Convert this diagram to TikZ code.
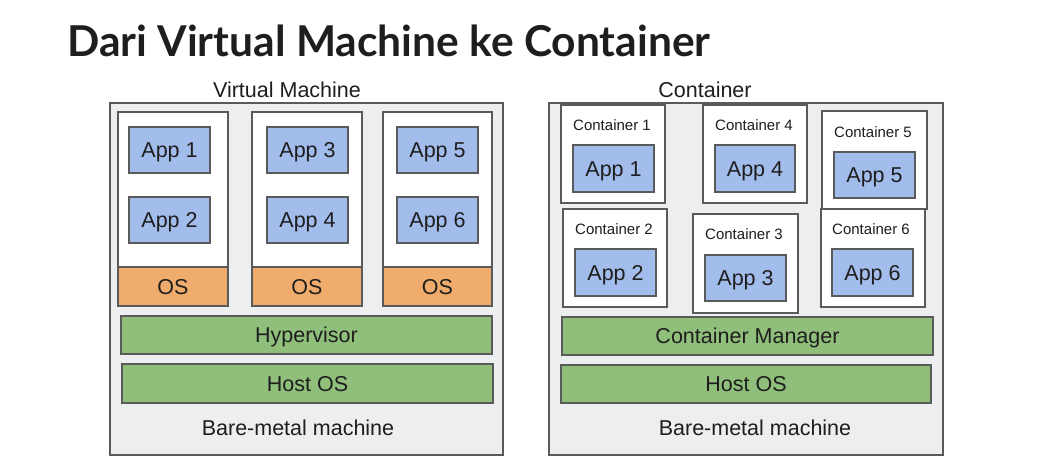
\documentclass[tikz,border=0pt]{standalone}
\usepackage{fontspec}
\setmainfont{Liberation Sans}
\newfontfamily\titlefont{Lato}
\definecolor{bggray}{HTML}{EDEEF0}
\definecolor{appblue}{HTML}{A2BCEB}
\definecolor{osorange}{HTML}{F0AC6C}
\definecolor{lgreen}{HTML}{8FBF7A}
\definecolor{edge}{HTML}{5A5A5A}
\definecolor{txt}{HTML}{1E1E1E}
\newcommand\bx[7]{\node[#6, minimum width={#4pt-#2pt}, minimum height={#5pt-#3pt}] (#1) at ({(#2+#4)/2},{(#3+#5)/2}) {#7};}
\tikzset{
  base/.style={draw=edge, line width=1.1pt, inner sep=0pt, outer sep=0pt, rectangle, text=txt, font=\fontsize{21.5}{24}\selectfont, text height=15.4pt, text depth=0pt},
  machine/.style={base, fill=bggray},
  vmbox/.style={base, fill=white},
  appbox/.style={base, fill=appblue},
  osbox/.style={base, fill=osorange},
  layer/.style={base, fill=lgreen},
  cbox/.style={base, fill=white},
  clabel/.style={text=txt, inner sep=0pt, font=\fontsize{15}{17}\selectfont, text height=10.7pt, text depth=0pt},
  plain/.style={text=txt, inner sep=0pt, font=\fontsize{21.5}{24}\selectfont, text height=15.4pt, text depth=0pt}
}
\begin{document}
\begin{tikzpicture}[x=1pt,y=-1pt]
\useasboundingbox[fill=white] (0,0) rectangle (1046,466);
% title
\node[anchor=base west, inner sep=0pt, text=txt, font=\titlefont\bfseries\fontsize{42.5}{50}\selectfont] (title) at (67,56) {Dari Virtual Machine ke Container};
% ---- Virtual machine side
\bx{vmhost}{110}{103}{503}{455}{machine}{}
\node[plain] (vmtitle) at (287,90) {Virtual Machine};
\bx{vm1}{118}{112}{228}{306}{vmbox}{}
\bx{vm2}{252}{112}{362}{306}{vmbox}{}
\bx{vm3}{383}{112}{492}{306}{vmbox}{}
\bx{os1}{118}{267}{228}{306}{osbox}{OS}
\bx{os2}{252}{267}{362}{306}{osbox}{OS}
\bx{os3}{383}{267}{492}{306}{osbox}{OS}
\bx{vapp1}{129}{127}{210}{173}{appbox}{App 1}
\bx{vapp2}{129}{197}{210}{243}{appbox}{App 2}
\bx{vapp3}{267}{127}{348}{173}{appbox}{App 3}
\bx{vapp4}{267}{197}{348}{243}{appbox}{App 4}
\bx{vapp5}{397}{127}{478}{173}{appbox}{App 5}
\bx{vapp6}{397}{197}{478}{243}{appbox}{App 6}
\bx{hyper}{121}{316}{492}{354}{layer}{Hypervisor}
\bx{vhost}{122}{364}{493}{403}{layer}{Host OS}
\node[plain] (vbare) at (298,428) {Bare-metal machine};
% ---- Container side
\bx{chost}{549}{103}{943}{455}{machine}{}
\node[plain] (ctitle) at (705,90) {Container};
\bx{c1}{561}{105}{665}{203}{cbox}{}
\bx{c4}{703}{105}{807}{203}{cbox}{}
\bx{c5}{822}{111}{927}{209}{cbox}{}
\bx{c2}{563}{209}{667}{307}{cbox}{}
\bx{c3}{693}{214}{798}{313}{cbox}{}
\bx{c6}{821}{209}{925}{307}{cbox}{}
\node[clabel] (l1) at (612,125) {Container 1};
\node[clabel] (l4) at (754,125) {Container 4};
\node[clabel] (l5) at (873,132) {Container 5};
\node[clabel] (l2) at (614,229) {Container 2};
\node[clabel] (l3) at (744,234) {Container 3};
\node[clabel] (l6) at (871,229) {Container 6};
\bx{capp1}{573}{145}{654}{192}{appbox}{App 1}
\bx{capp4}{715}{145}{795}{192}{appbox}{App 4}
\bx{capp5}{834}{152}{915}{198}{appbox}{App 5}
\bx{capp2}{575}{249}{656}{296}{appbox}{App 2}
\bx{capp3}{705}{255}{786}{301}{appbox}{App 3}
\bx{capp6}{832}{249}{913}{296}{appbox}{App 6}
\bx{cman}{562}{317}{933}{355}{layer}{Container Manager}
\bx{chostos}{561}{365}{931}{403}{layer}{Host OS}
\node[plain] (cbare) at (755,428) {Bare-metal machine};
\end{tikzpicture}
\end{document}
